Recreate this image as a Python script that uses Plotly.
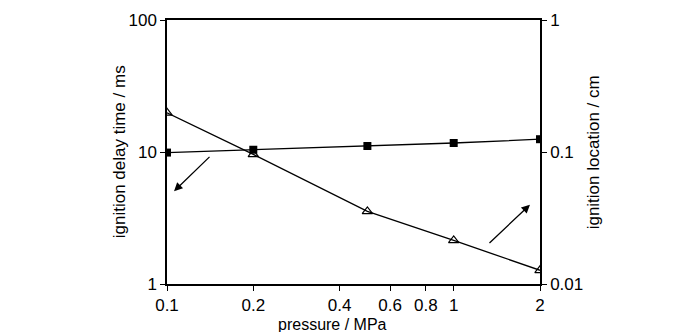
import plotly.graph_objects as go

# pressure (MPa)
pressure = [0.1, 0.2, 0.5, 1.0, 2.0]
# ignition delay time (ms) - left axis
delay_time = [19.8, 9.6, 3.55, 2.14, 1.27]
# ignition location (cm) - right axis
ignition_location = [0.099, 0.104, 0.111, 0.117, 0.125]

x_ticks = [0.1, 0.2, 0.4, 0.6, 0.8, 1, 2]
x_tick_text = ["0.1", "0.2", "0.4", "0.6", "0.8", "1", "2"]

FONT = "Liberation Sans, Arial, sans-serif"

fig = go.Figure()

fig.add_trace(go.Scatter(
    x=pressure, y=delay_time, mode="lines+markers",
    line=dict(color="black", width=1.3),
    marker=dict(symbol="triangle-up-open", size=9, color="black", line=dict(width=1.2)),
    showlegend=False,
))
fig.add_trace(go.Scatter(
    x=pressure, y=ignition_location, mode="lines+markers", yaxis="y2",
    line=dict(color="black", width=1.3),
    marker=dict(symbol="square", size=8, color="black"),
    showlegend=False,
))

axis_common = dict(
    showgrid=False, zeroline=False, showline=True, linecolor="black", linewidth=1.5,
    ticks="outside", ticklen=5, tickwidth=1.3, tickcolor="black",
    tickfont=dict(family=FONT, size=17, color="black"),
)

fig.update_layout(
    width=700, height=332,
    margin=dict(l=167, r=160, t=11, b=48),
    paper_bgcolor="white", plot_bgcolor="white",
    font=dict(family=FONT, color="black"),
    xaxis=dict(type="log", range=[-1, 0.30103], tickvals=x_ticks, ticktext=x_tick_text,
               mirror=True, **axis_common),
    yaxis=dict(type="log", range=[0, 2], tickvals=[1, 10, 100], ticktext=["1", "10", "100"],
               **axis_common),
    yaxis2=dict(type="log", range=[-2, 0], tickvals=[0.01, 0.1, 1], ticktext=["0.01", "0.1", "1"],
                overlaying="y", side="right", **axis_common),
    annotations=[
        dict(text="pressure / MPa", xref="paper", yref="paper", x=0.445, y=-0.1875,
             xanchor="center", yanchor="bottom", showarrow=False, borderpad=0,
             font=dict(family=FONT, size=16, color="black")),
        dict(text="ignition delay time / ms", xref="paper", yref="paper", x=-0.128, y=0.5,
             textangle=-90, xanchor="center", yanchor="middle", showarrow=False,
             font=dict(family=FONT, size=17, color="black")),
        dict(text="ignition location / cm", xref="paper", yref="paper", x=1.143, y=0.5,
             textangle=-90, xanchor="center", yanchor="middle", showarrow=False,
             font=dict(family=FONT, size=17, color="black")),
        # arrow pointing to the left axis
        dict(x=-0.9755, y=0.703, ax=-0.8465, ay=0.974, xref="x", yref="y", axref="x", ayref="y",
             text="", showarrow=True, arrowhead=2, arrowsize=1.3, arrowwidth=1.3, arrowcolor="black"),
        # arrow pointing to the right axis
        dict(x=0.266, y=0.601, ax=0.1196, ay=0.300, xref="x", yref="y", axref="x", ayref="y",
             text="", showarrow=True, arrowhead=2, arrowsize=1.3, arrowwidth=1.3, arrowcolor="black"),
    ],
)

fig.write_html("out.html")
